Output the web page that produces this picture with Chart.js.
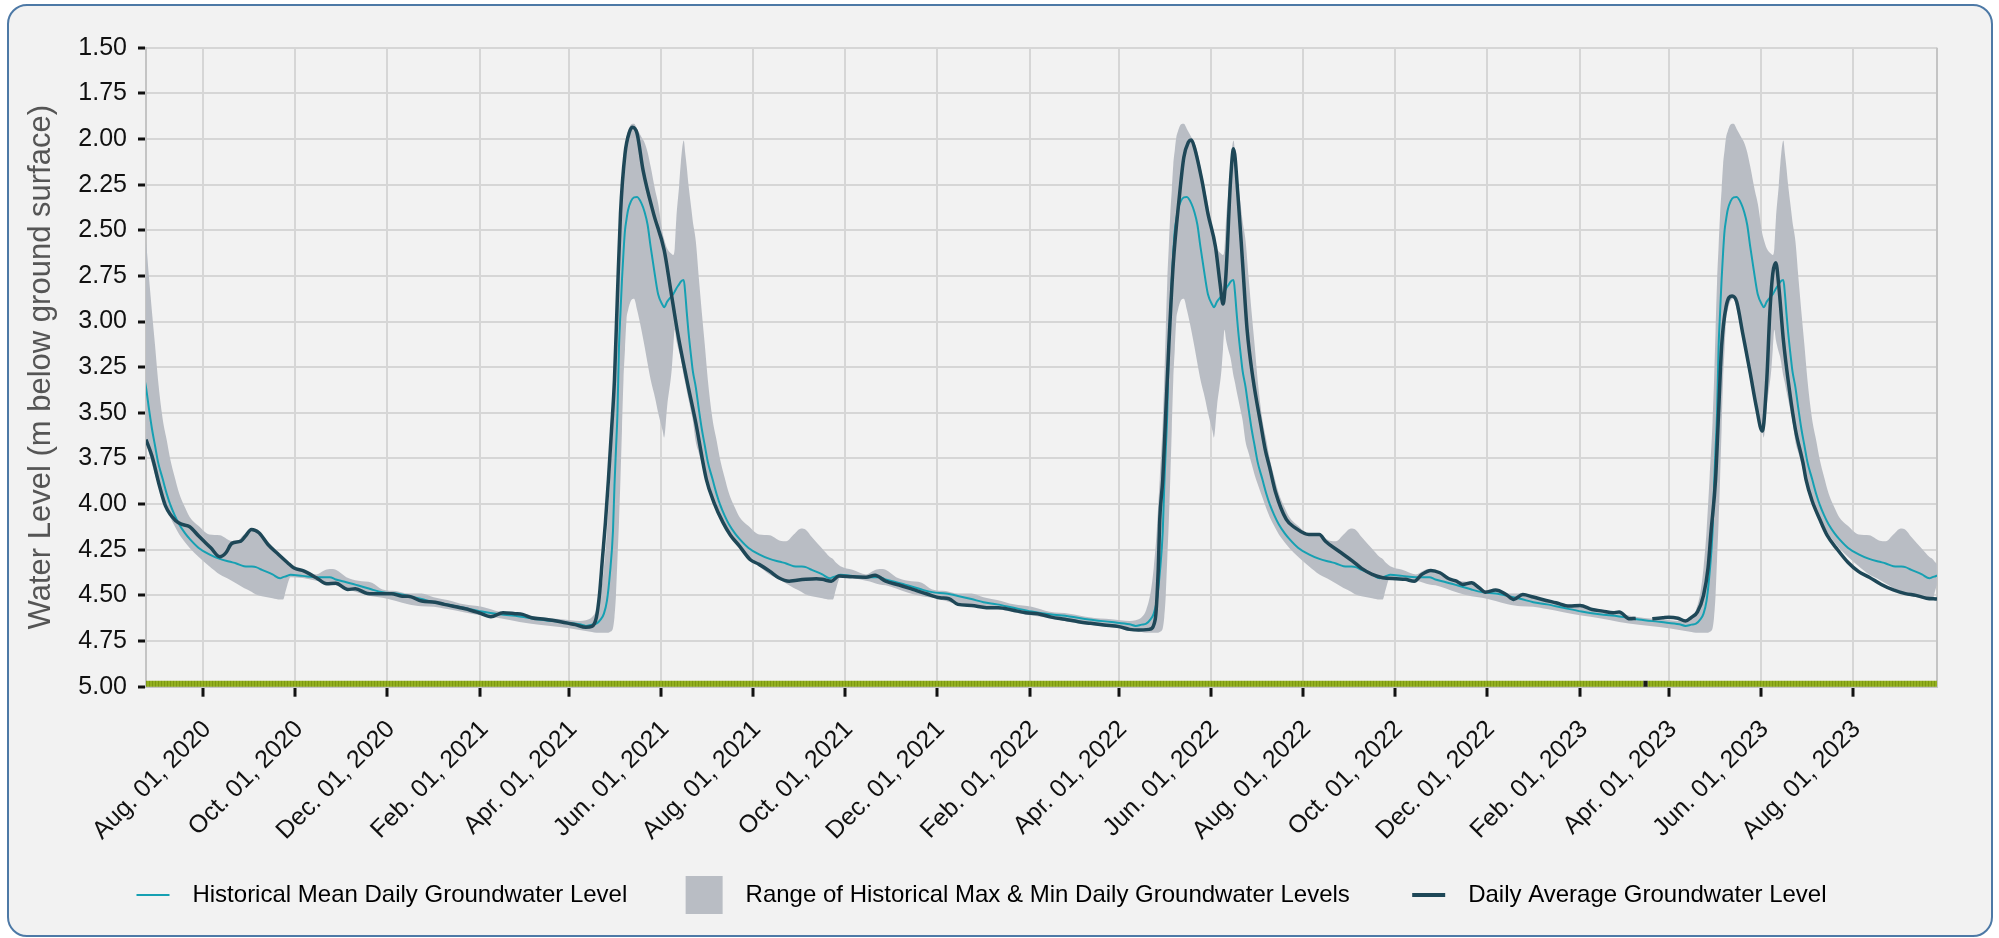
<!DOCTYPE html>
<html><head><meta charset="utf-8">
<script src="https://cdn.jsdelivr.net/npm/chart.js@4.4.1/dist/chart.umd.min.js"></script>
<style>
html,body{margin:0;padding:0;background:#fff;width:1999px;height:938px;overflow:hidden}
#card{position:absolute;left:7px;top:4px;width:1986px;height:933px;box-sizing:border-box;border:2px solid #4d79a6;border-radius:20px;background:#f2f2f2}
#c{position:absolute;left:0px;top:6px}
</style></head><body>
<div id="card"></div>
<canvas id="c" width="1948" height="927"></canvas>
<script>
// ---------- DATA ----------
const seriesNames = ['Historical Mean Daily Groundwater Level', 'Range of Historical Max & Min Daily Groundwater Levels', 'Daily Average Groundwater Level'];
const yAxisTitle = 'Water Level (m below ground surface)';
const startDate = '2020-06-24';
const endDate = '2023-09-26';
const climYears = [2020, 2021, 2022, 2023];

// historical statistics by calendar day (m below ground surface)
const climDays = ['01-01','01-10','01-21','02-02','02-14','02-27','03-12','03-27','04-08','04-12','04-16','04-19','04-22','04-24','04-26','04-28','04-30','05-01','05-02','05-03','05-04','05-05','05-06','05-07','05-08','05-09','05-10','05-12','05-14','05-16','05-19','05-21','05-23','05-25','05-28','05-30','06-02','06-03','06-05','06-08','06-09','06-10','06-11','06-13','06-14','06-16','06-17','06-18','06-19','06-21','06-22','06-24','06-26','06-28','06-30','07-02','07-05','07-08','07-10','07-13','07-16','07-20','07-23','07-29','08-05','08-12','08-19','08-23','08-28','09-02','09-05','09-09','09-16','09-21','09-23','09-25','09-28','10-06','10-15','10-20','10-24','10-28','11-04','11-12','11-21','11-28','12-07','12-15','12-24'];
const climMean = [4.537,4.549,4.568,4.588,4.603,4.615,4.632,4.646,4.658,4.667,4.66,4.655,4.63,4.60,4.53,4.38,4.15,3.90,3.70,3.50,3.14,2.95,2.77,2.62,2.50,2.44,2.39,2.34,2.32,2.318,2.354,2.40,2.47,2.59,2.754,2.85,2.91,2.922,2.891,2.86,2.85,2.836,2.82,2.795,2.782,2.773,2.845,2.95,3.045,3.20,3.27,3.36,3.48,3.59,3.68,3.77,3.86,3.95,4.00,4.06,4.11,4.16,4.19,4.24,4.275,4.30,4.316,4.325,4.34,4.342,4.345,4.36,4.385,4.406,4.40,4.395,4.387,4.393,4.40,4.40,4.40,4.413,4.428,4.446,4.468,4.482,4.49,4.503,4.52];
const climMin = [4.51,4.525,4.549,4.562,4.59,4.60,4.62,4.631,4.64,4.636,4.62,4.58,4.48,4.35,4.15,3.86,3.55,3.32,3.05,2.78,2.59,2.41,2.28,2.14,2.06,1.99,1.96,1.921,1.917,1.945,1.99,2.02,2.072,2.15,2.28,2.354,2.518,2.55,2.60,2.63,2.636,2.60,2.445,2.25,2.136,2.008,2.08,2.154,2.24,2.38,2.45,2.56,2.76,2.95,3.13,3.32,3.53,3.66,3.75,3.85,3.94,4.02,4.07,4.12,4.166,4.17,4.20,4.203,4.166,4.133,4.14,4.18,4.245,4.29,4.30,4.32,4.34,4.36,4.385,4.365,4.356,4.36,4.40,4.42,4.43,4.467,4.476,4.49,4.49];
const climMax = [4.562,4.575,4.592,4.61,4.625,4.645,4.66,4.675,4.69,4.695,4.70,4.705,4.705,4.705,4.705,4.70,4.68,4.62,4.50,4.30,4.10,3.86,3.59,3.32,3.15,2.99,2.94,2.885,2.875,2.936,3.05,3.136,3.23,3.318,3.42,3.50,3.60,3.637,3.464,3.264,3.15,3.045,3.10,3.17,3.20,3.30,3.336,3.38,3.42,3.50,3.54,3.66,3.72,3.78,3.84,3.89,3.96,4.03,4.07,4.12,4.165,4.21,4.24,4.29,4.34,4.385,4.415,4.435,4.46,4.48,4.495,4.505,4.515,4.522,4.522,4.467,4.40,4.405,4.42,4.43,4.44,4.445,4.462,4.485,4.504,4.513,4.53,4.548,4.56];

// daily average groundwater level (null = no data)
const dailyDates = ['2020-06-24','2020-06-28','2020-07-03','2020-07-07','2020-07-14','2020-07-18','2020-07-23','2020-07-29','2020-08-06','2020-08-12','2020-08-16','2020-08-20','2020-08-26','2020-08-29','2020-09-02','2020-09-07','2020-09-13','2020-09-20','2020-09-26','2020-09-30','2020-10-07','2020-10-15','2020-10-22','2020-10-28','2020-11-05','2020-11-10','2020-11-18','2020-11-26','2020-12-04','2020-12-11','2020-12-15','2020-12-24',
'2021-01-02','2021-01-08','2021-01-22','2021-01-31','2021-02-08','2021-02-16','2021-02-24','2021-03-01','2021-03-07','2021-03-16','2021-03-27','2021-04-05','2021-04-12','2021-04-16','2021-04-19','2021-04-21','2021-04-23','2021-04-25','2021-04-27','2021-04-29','2021-05-01','2021-05-03','2021-05-05','2021-05-08','2021-05-11','2021-05-13','2021-05-16','2021-05-20','2021-05-27','2021-06-03','2021-06-07','2021-06-12','2021-06-18','2021-06-24','2021-07-01','2021-07-06','2021-07-12','2021-07-17','2021-07-23','2021-07-30','2021-08-05','2021-08-12','2021-08-18','2021-08-25','2021-08-29','2021-09-05','2021-09-12','2021-09-16','2021-09-22','2021-09-27','2021-10-06','2021-10-15','2021-10-21','2021-10-28','2021-11-06','2021-11-15','2021-11-24','2021-12-03','2021-12-09','2021-12-15','2021-12-24',
'2022-01-03','2022-01-11','2022-01-20','2022-01-29','2022-02-06','2022-02-15','2022-02-24','2022-03-05','2022-03-13','2022-03-22','2022-04-01','2022-04-08','2022-04-14','2022-04-21','2022-04-25','2022-04-27','2022-04-28','2022-04-30','2022-05-02','2022-05-04','2022-05-07','2022-05-11','2022-05-14','2022-05-17','2022-05-19','2022-05-21','2022-05-26','2022-05-30','2022-06-04','2022-06-07','2022-06-09','2022-06-11','2022-06-14','2022-06-16','2022-06-19','2022-06-22','2022-06-25','2022-06-29','2022-07-04','2022-07-07','2022-07-10','2022-07-14','2022-07-21','2022-07-27','2022-08-05','2022-08-12','2022-08-16','2022-08-25','2022-09-03','2022-09-09','2022-09-16','2022-09-23','2022-10-02','2022-10-08','2022-10-14','2022-10-19','2022-10-25','2022-10-31','2022-11-06','2022-11-11','2022-11-15','2022-11-21','2022-11-26','2022-11-30','2022-12-07','2022-12-14','2022-12-19','2022-12-25',
'2023-01-01','2023-01-07','2023-01-16','2023-01-25','2023-02-01','2023-02-09','2023-02-16','2023-02-23','2023-02-27','2023-03-06','2023-03-10','2023-03-15','2023-03-21','2023-03-28','2023-04-01','2023-04-07','2023-04-12','2023-04-16','2023-04-20','2023-04-24','2023-04-27','2023-04-29','2023-05-02','2023-05-04','2023-05-06','2023-05-09','2023-05-13','2023-05-16','2023-05-20','2023-05-25','2023-05-29','2023-06-02','2023-06-05','2023-06-07','2023-06-09','2023-06-11','2023-06-13','2023-06-16','2023-06-20','2023-06-24','2023-06-29','2023-07-01','2023-07-05','2023-07-10','2023-07-15','2023-07-22','2023-07-29','2023-08-05','2023-08-12','2023-08-20','2023-08-28','2023-09-05','2023-09-12','2023-09-19','2023-09-26'];
const dailyLevel = [3.646,3.738,3.902,4.011,4.093,4.111,4.124,4.175,4.239,4.288,4.267,4.215,4.203,4.175,4.139,4.157,4.221,4.276,4.321,4.349,4.367,4.403,4.436,4.434,4.467,4.464,4.489,4.491,4.491,4.504,4.504,4.531,
4.537,4.549,4.573,4.595,4.617,4.595,4.60,4.604,4.622,4.631,4.646,4.66,4.675,4.67,4.62,4.50,4.30,4.10,3.864,3.60,3.318,2.85,2.409,2.081,1.96,1.936,1.97,2.172,2.41,2.609,2.809,3.064,3.318,3.555,3.864,3.99,4.10,4.17,4.23,4.303,4.33,4.367,4.403,4.422,4.418,4.412,4.409,4.412,4.422,4.394,4.398,4.40,4.39,4.422,4.443,4.467,4.491,4.513,4.518,4.549,4.555,
4.567,4.567,4.58,4.595,4.60,4.619,4.631,4.644,4.653,4.662,4.671,4.686,4.69,4.686,4.631,4.358,4.084,3.864,3.50,3.136,2.68,2.318,2.10,2.018,2.005,2.045,2.227,2.409,2.59,2.79,2.904,2.736,2.227,2.054,2.318,2.68,3.045,3.318,3.56,3.70,3.80,3.938,4.084,4.13,4.166,4.166,4.203,4.258,4.312,4.352,4.385,4.403,4.409,4.412,4.422,4.385,4.363,4.376,4.409,4.422,4.44,4.431,4.458,4.482,4.471,4.495,4.522,4.495,
4.509,4.522,4.54,4.558,4.555,4.577,4.586,4.595,4.591,4.628,4.626,null,4.628,4.622,4.619,4.625,4.64,4.62,4.59,4.50,4.35,4.15,3.864,3.50,3.136,2.918,2.86,2.891,3.064,3.282,3.464,3.60,3.318,2.955,2.736,2.678,2.809,3.10,3.373,3.591,3.773,3.864,3.98,4.08,4.17,4.25,4.32,4.37,4.40,4.44,4.47,4.49,4.50,4.515,4.52];

// data-status strip along the bottom of the plot
const statusStart = ['2020-06-24','2023-03-15','2023-03-18'];
const statusEnd   = ['2023-03-15','2023-03-18','2023-09-26'];
const statusCode  = ['measured','missing','measured'];

// axis ticks
const xTickDates = ['2020-08-01','2020-10-01','2020-12-01','2021-02-01','2021-04-01','2021-06-01','2021-08-01','2021-10-01','2021-12-01','2022-02-01','2022-04-01','2022-06-01','2022-08-01','2022-10-01','2022-12-01','2023-02-01','2023-04-01','2023-06-01','2023-08-01'];
const xTickLabels = ['Aug. 01, 2020','Oct. 01, 2020','Dec. 01, 2020','Feb. 01, 2021','Apr. 01, 2021','Jun. 01, 2021','Aug. 01, 2021','Oct. 01, 2021','Dec. 01, 2021','Feb. 01, 2022','Apr. 01, 2022','Jun. 01, 2022','Aug. 01, 2022','Oct. 01, 2022','Dec. 01, 2022','Feb. 01, 2023','Apr. 01, 2023','Jun. 01, 2023','Aug. 01, 2023'];
const yTickValues = [1.50,1.75,2.00,2.25,2.50,2.75,3.00,3.25,3.50,3.75,4.00,4.25,4.50,4.75,5.00];

// ---------- BUILD ----------
const dayNum = s => Date.UTC(+s.slice(0,4), +s.slice(5,7) - 1, +s.slice(8,10)) / 864e5;
const xMin = dayNum(startDate), xMax = dayNum(endDate);
const yMin = yTickValues[0], yMax = yTickValues[yTickValues.length - 1];
const xTickDays = xTickDates.map(dayNum);

const climSeries = vals => climYears.flatMap(y => climDays.map((md, i) => ({x: dayNum(y + '-' + md), y: vals[i]})));
const dailyPts = dailyDates.map((d, i) => ({x: dayNum(d), y: dailyLevel[i]}));

const FONT = '"Liberation Sans", Arial, Helvetica, sans-serif';
const C_MEAN = '#16a0b2', C_DAILY = '#1e4757', C_RANGE = '#b9bdc4';

// striped green pattern for status strip
const pc = document.createElement('canvas'); pc.width = 3; pc.height = 8;
const pctx = pc.getContext('2d');
pctx.fillStyle = '#93b020'; pctx.fillRect(0, 0, 3, 8);
pctx.fillStyle = '#7c9812'; pctx.fillRect(2, 0, 1, 8);
const greenPattern = pctx.createPattern(pc, 'repeat');
const statusColor = {measured: greenPattern, missing: '#1a1a1a'};

const statusDatasets = [...new Set(statusCode)].map(code => ({
  label: 'status-' + code,
  data: statusCode.flatMap((c, i) => c === code ? [{x: dayNum(statusStart[i]), y: yMax}, {x: dayNum(statusEnd[i]), y: yMax}, {x: dayNum(statusEnd[i]), y: null}] : []),
  borderColor: statusColor[code], borderWidth: 12, borderCapStyle: 'butt',
  pointRadius: 0, fill: false, spanGaps: false, clip: 0, tension: 0
}));

// legend symbols (canvas: 22px lead-in, symbol, 11px tail)
function sym(kind) {
  const cv = document.createElement('canvas'); cv.width = 70; cv.height = 38;
  const g = cv.getContext('2d');
  if (kind === 'box') { g.fillStyle = C_RANGE; g.fillRect(22, 0, 37, 38); }
  else { g.fillStyle = kind === 'mean' ? C_MEAN : C_DAILY; const h = kind === 'mean' ? 2 : 4; g.fillRect(26, 19 - h / 2, 33, h); }
  return cv;
}
const legendSyms = [sym('mean'), sym('box'), sym('daily')];

const plotFrame = {
  id: 'plotFrame',
  beforeDatasetsDraw(chart) {
    const a = chart.chartArea, ctx = chart.ctx;
    ctx.save(); ctx.strokeStyle = '#c4c4c4'; ctx.lineWidth = 2;
    ctx.beginPath(); ctx.moveTo(a.right, a.top); ctx.lineTo(a.right, a.bottom); ctx.stroke(); ctx.restore();
  }
};

new Chart(document.getElementById('c'), {
  type: 'line',
  data: {
    datasets: [
      {label: seriesNames[2], data: dailyPts, borderColor: C_DAILY, borderWidth: 3.5, pointRadius: 0, fill: false, spanGaps: false, cubicInterpolationMode: 'monotone'},
      {label: seriesNames[0], data: climSeries(climMean), borderColor: C_MEAN, borderWidth: 2, pointRadius: 0, fill: false, cubicInterpolationMode: 'monotone'},
      {label: seriesNames[1], data: climSeries(climMin), borderColor: 'rgba(0,0,0,0)', borderWidth: 1, backgroundColor: C_RANGE, pointRadius: 0, fill: '+1', cubicInterpolationMode: 'monotone'},
      {label: 'range-max', data: climSeries(climMax), borderColor: 'rgba(0,0,0,0)', borderWidth: 1, pointRadius: 0, fill: false, cubicInterpolationMode: 'monotone'},
      ...statusDatasets
    ]
  },
  options: {
    responsive: false, animation: false, events: [],
    layout: {padding: {top: 41.7, bottom: 16, left: 0, right: 11}},
    scales: {
      x: {
        type: 'linear', min: xMin, max: xMax,
        afterBuildTicks: s => { s.ticks = xTickDays.map(v => ({value: v})); },
        afterFit: s => { s.height = 160; },
        ticks: {autoSkip: false, minRotation: 45, maxRotation: 45, padding: 18, labelOffset: 4, color: '#111', font: {family: FONT, size: 25},
          callback: v => xTickLabels[xTickDays.indexOf(v)]},
        grid: {color: '#d6d6d6', lineWidth: 2, tickLength: 10, tickColor: '#111', tickWidth: 3},
        border: {display: true, color: '#c4c4c4', width: 2}
      },
      y: {
        type: 'linear', reverse: true, min: yMin, max: yMax,
        afterBuildTicks: s => { s.ticks = yTickValues.map(v => ({value: v})); },
        afterFit: s => { s.width = 146; },
        ticks: {padding: 11, color: '#111', font: {family: FONT, size: 25}, callback: v => v.toFixed(2)},
        grid: {color: '#d6d6d6', lineWidth: 2, tickLength: 8, tickColor: '#111', tickWidth: 3},
        border: {display: true, color: '#c4c4c4', width: 2},
        title: {display: true, text: yAxisTitle, color: '#555', font: {family: FONT, size: 31}, padding: {top: 23, bottom: 0}}
      }
    },
    plugins: {
      tooltip: {enabled: false},
      legend: {
        display: true, position: 'bottom', align: 'center',
        labels: {
          usePointStyle: true, pointStyleWidth: 70, boxHeight: 24, padding: 36.3,
          color: '#111', font: {family: FONT, size: 24},
          generateLabels: () => seriesNames.map((t, i) => ({text: t, pointStyle: legendSyms[i], fillStyle: 'rgba(0,0,0,0)', strokeStyle: 'rgba(0,0,0,0)', lineWidth: 0, hidden: false}))
        }
      }
    }
  },
  plugins: [plotFrame]
});
</script></body></html>
